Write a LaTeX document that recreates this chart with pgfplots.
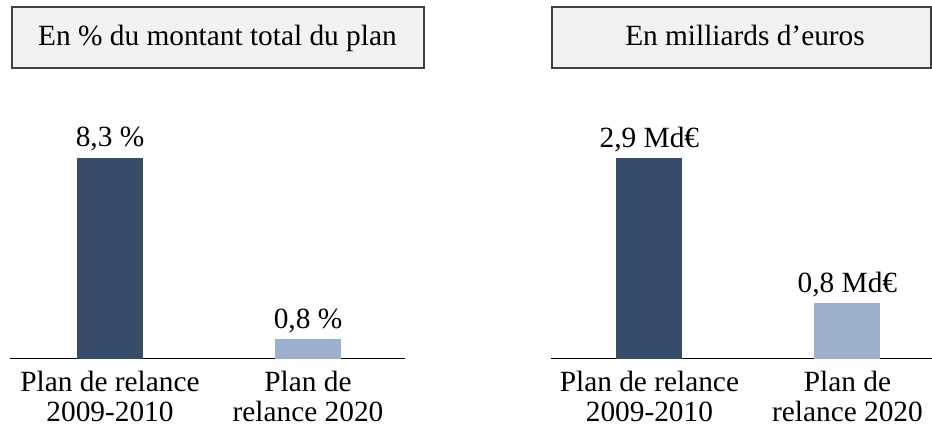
\documentclass[border=0pt]{standalone}
\usepackage{fontspec}
\setmainfont{Liberation Serif}
\usepackage{pgfplots}
\pgfplotsset{compat=1.18}

\definecolor{barDark}{RGB}{55,75,107}
\definecolor{barLight}{RGB}{157,176,206}
\definecolor{boxFill}{RGB}{242,242,242}
\definecolor{boxLine}{RGB}{64,64,64}

\newcommand{\chartfont}{\fontsize{22}{22.5}\selectfont}

% 1 px of the reference = 0.75pt
\pgfplotsset{
  relance/.style={
    scale only axis,
    anchor=south west,
    height=193.875pt,
    ymin=0,
    axis x line=bottom,
    axis y line=none,
    axis line style={black, line width=0.9pt, -},
    xtick={0,1},
    major tick length=0pt,
    xticklabel style={font=\chartfont, align=center, yshift=-5.9pt},
    ybar, bar width=0.333,
    nodes near coords,
    point meta=explicit symbolic,
    every node near coord/.append style={font=\chartfont, text=black, anchor=base, yshift=8.25pt},
  },
}

\begin{document}
\begin{tikzpicture}[font=\chartfont]
\useasboundingbox (0,0) rectangle (699pt,-323.25pt);

% title boxes
\draw[boxLine, line width=1.1pt, fill=boxFill] (9pt,-5.25pt) rectangle (318pt,-51pt);
\node[anchor=base] at (163.1pt,-34.5pt) {En \% du montant total du plan};
\draw[boxLine, line width=1.1pt, fill=boxFill] (414pt,-5.25pt) rectangle (698.25pt,-51pt);
\node[anchor=base] at (558.75pt,-34.5pt) {En milliards d’euros};

% left panel
\begin{axis}[relance,
    at={(7.5pt,-268.875pt)},
    width=296.25pt,
    ymax=10.70,
    xmin=-0.505, xmax=1.490,
    xticklabels={{Plan de relance\\2009-2010},{Plan de\\relance 2020}},
]
\addplot[fill=barDark, draw=none, bar shift=0pt] coordinates {(0,8.3) [{8,3 \%}]};
\addplot[fill=barLight, draw=none, bar shift=0pt] coordinates {(1,0.8) [{0,8 \%}]};
\end{axis}

% right panel
\begin{axis}[relance,
    at={(413.25pt,-268.875pt)},
    width=285.75pt,
    ymax=3.739,
    xmin=-0.497, xmax=1.427,
    xticklabels={{Plan de relance\\2009-2010},{Plan de\\relance 2020}},
]
\addplot[fill=barDark, draw=none, bar shift=0pt] coordinates {(0,2.9) [{2,9 Md€}]};
\addplot[fill=barLight, draw=none, bar shift=0pt] coordinates {(1,0.8) [{0,8 Md€}]};
\end{axis}
\end{tikzpicture}
\end{document}
